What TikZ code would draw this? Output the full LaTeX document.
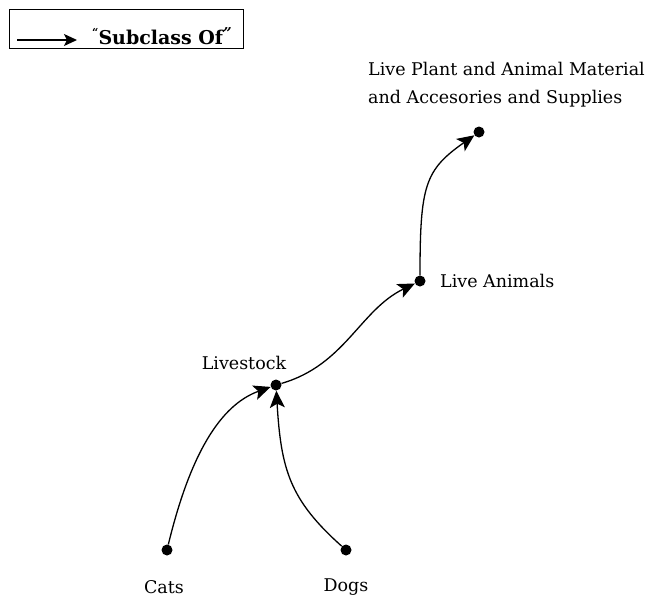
\documentclass[tikz,border=0pt]{standalone}
\usepackage{fontspec}
\setmainfont{DejaVu Serif}
\usetikzlibrary{arrows.meta}
\tikzset{
  dot/.style={circle,fill=black,inner sep=0pt,minimum size=11pt},
  lbl/.style={inner sep=0pt,font=\fontsize{17.5}{28}\selectfont},
  sub/.style={line width=1.3pt,-{Stealth[length=17pt,width=15pt,inset=4pt]}},
}
\begin{document}
\begin{tikzpicture}[x=1pt,y=-1pt]
\useasboundingbox (0,0) rectangle (650,600);

% legend
\node[draw,line width=1pt,minimum width=234pt,minimum height=39pt,anchor=north west] (legend) at (9,9) {};
\coordinate (la) at (17,40);
\coordinate (lb) at (77,40);
\draw[line width=1.3pt,-{Stealth[length=13pt,width=12pt,inset=3pt]}] (la) -- (lb);
\node[inner sep=0pt,anchor=west,font=\fontsize{19}{22}\bfseries\selectfont] (legtext) at (92,36)
  {\raisebox{8pt}{\fontsize{11}{12}\selectfont“}Subclass Of\raisebox{6pt}{\fontsize{15}{16}\selectfont\itshape”}};

% concept dots
\node[dot] (top) at (479,132) {};
\node[dot] (animals) at (420,281) {};
\node[dot] (livestock) at (276,385) {};
\node[dot] (cats) at (167,550) {};
\node[dot] (dogs) at (346,550) {};

% labels
\node[lbl,align=left,anchor=north west] (toplbl) at (368,62)
  {Live Plant and Animal Material\\and Accesories and Supplies};
\node[lbl,anchor=west] (animalslbl) at (440,281) {Live Animals};
\node[lbl] (livestocklbl) at (244,363) {Livestock};
\node[lbl] (catslbl) at (164,587) {Cats};
\node[lbl] (dogslbl) at (346,587) {Dogs};

% subclass relations
\draw[sub] (cats) .. controls (190,455) and (220,405) .. (livestock);
\draw[sub] (dogs) .. controls (290,500) and (281,470) .. (livestock);
\draw[sub] (livestock) .. controls (345,365) and (360,310) .. (animals);
\draw[sub] (animals) .. controls (420,185) and (425,170) .. (top);
\end{tikzpicture}
\end{document}
